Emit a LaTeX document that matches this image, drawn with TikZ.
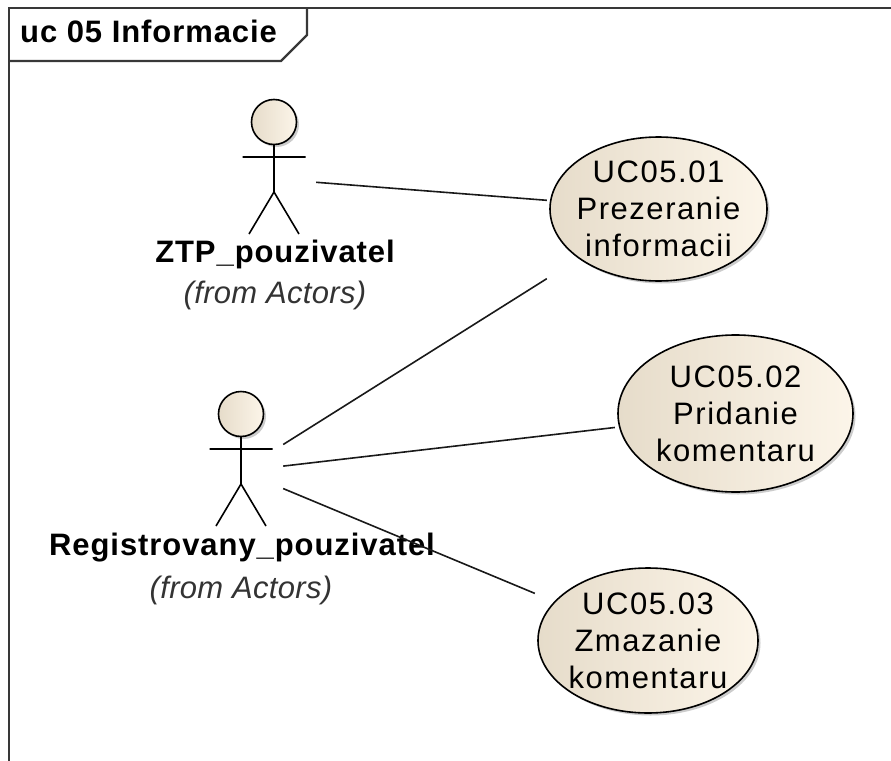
\documentclass[tikz,border=0pt]{standalone}
\usepackage{fontspec}
\setmainfont{Liberation Sans}
\newfontfamily\ucfont[LetterSpace=5]{Liberation Sans}
\newfontfamily\namefont[LetterSpace=3]{Liberation Sans}
\newfontfamily\fromfont[LetterSpace=1]{Liberation Sans}
\usepackage{tikz}
\usetikzlibrary{calc}

\definecolor{ucleft}{HTML}{E6DCCA}
\definecolor{ucright}{HTML}{FCF5E9}
\definecolor{framegray}{HTML}{383838}

\begin{document}
\begin{tikzpicture}[x=1pt, y=-1pt,
    frameline/.style={draw=framegray, line width=2.2pt},
    assoc/.style={draw=black!90, line width=1.6pt},
    titletext/.style={font=\namefont\bfseries\fontsize{31}{37}\selectfont, inner sep=0pt},
    actorname/.style={font=\namefont\bfseries\fontsize{31}{37}\selectfont, inner sep=0pt},
    fromtext/.style={font=\fromfont\itshape\fontsize{31}{37}\selectfont, text=black!80, inner sep=0pt},
    actor/.style={rectangle, draw=none, minimum width=84pt, minimum height=172pt,
        path picture={
            \coordinate (c) at (path picture bounding box.center);
            \fill[black, opacity=0.2] ($(c)+(2.5,-54.5)$) circle[radius=22.5pt];
            \draw[line width=1.6pt, left color=ucleft, right color=ucright] ($(c)+(0,-57)$) circle[radius=22.5pt];
            \draw[line width=1.6pt] ($(c)+(0,-34.5)$) -- ($(c)+(0,13)$)
                ($(c)+(-31.5,-22)$) -- ($(c)+(31.5,-22)$)
                ($(c)+(-25,55)$) -- ($(c)+(0,13)$) -- ($(c)+(25,55)$);
        }},
    usecase/.style 2 args={rectangle, draw=none, inner sep=0pt, align=center,
        minimum width=2*#1pt+6pt, minimum height=2*#2pt+6pt,
        font=\ucfont\fontsize{31}{37}\selectfont,
        path picture={
            \fill[black, opacity=0.2] ([shift={(2.5pt,-2.5pt)}]path picture bounding box.center) ellipse [x radius=#1pt, y radius=#2pt];
            \draw[line width=1.6pt, left color=ucleft, right color=ucright] (path picture bounding box.center) ellipse [x radius=#1pt, y radius=#2pt];
        }}]
    \useasboundingbox (0,0) rectangle (891,760);
    \clip (0,0) rectangle (891,760);
    % diagram frame
    \draw[frameline] (9,780) -- (9,8) -- (900,8);
    \draw[frameline] (9,61) -- (281,61) -- (307,35) -- (307,8);
    \node[titletext, anchor=base west] (title) at (20,43) {uc 05 Informacie};
    % actors
    \node[actor] (ztp) at (274,179) {};
    \node[actorname, anchor=base] (ztpname) at (275,262) {ZTP\_pouzivatel};
    \node[fromtext, anchor=base] (ztpfrom) at (275,303) {(from Actors)};
    \node[actor] (reg) at (241,471) {};
    \node[actorname, anchor=base] (regname) at (242,555) {Registrovany\_pouzivatel};
    \node[fromtext, anchor=base] (regfrom) at (241,598) {(from Actors)};
    % use cases
    \node[usecase={108.5}{72}] (uc1) at (658.5,209) {UC05.01\\Prezeranie\\informacii};
    \node[usecase={117.5}{78.5}] (uc2) at (735.5,413.5) {UC05.02\\Pridanie\\komentaru};
    \node[usecase={110}{72.5}] (uc3) at (648,640.5) {UC05.03\\Zmazanie\\komentaru};
    % associations
    \draw[assoc] (ztp) -- (uc1);
    \draw[assoc] (reg) -- (uc1);
    \draw[assoc] (reg) -- (uc2);
    \draw[assoc] (reg) -- (uc3);
\end{tikzpicture}
\end{document}
